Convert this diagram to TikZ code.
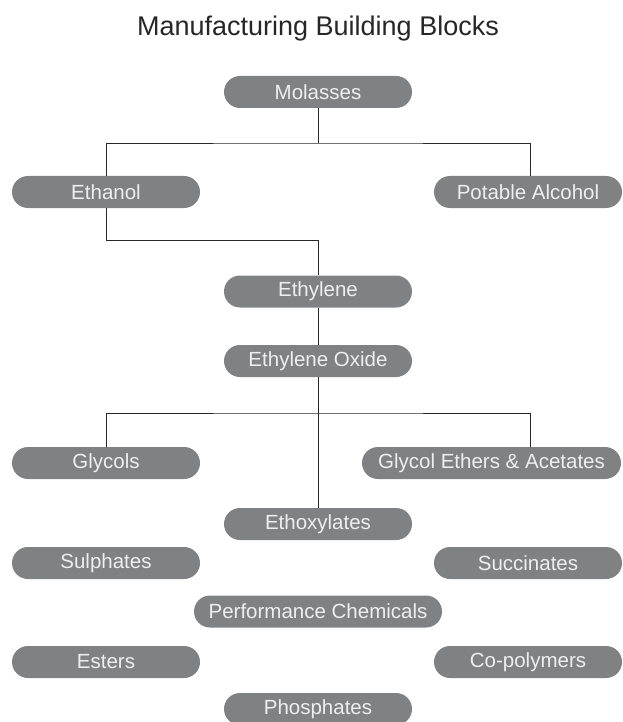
\documentclass[tikz,border=0pt]{standalone}
\usepackage{fontspec}
\setmainfont{Liberation Sans}
\usetikzlibrary{positioning}

\definecolor{blockgray}{RGB}{128,129,131}
\definecolor{blocktext}{RGB}{238,238,238}
\definecolor{linegray}{RGB}{40,40,40}

\tikzset{
  block/.style={rectangle, rounded corners=16pt, fill=blockgray, text=blocktext,
    minimum width=188pt, minimum height=32pt, inner sep=0pt,
    font=\fontsize{20.5}{24}\selectfont},
  link/.style={draw=linegray, line width=0.9pt}
}

\begin{document}
\begin{tikzpicture}[x=1pt, y=-1pt]
    \useasboundingbox (0,0) rectangle (622,722);

    % Title
    \node[anchor=base, text=black!85, font=\fontsize{27}{32}\selectfont] (title) at (318,36) {Manufacturing Building Blocks};

    % Nodes
    \node[block] (molasses) at (318,92) {Molasses};
    \node[block] (ethanol) at (106,192) {Ethanol};
    \node[block] (potable) at (528,192) {Potable Alcohol};
    \node[block] (ethylene) at (318,291.5) {Ethylene};
    \node[block] (oxide) at (318,361) {Ethylene Oxide};
    \node[block] (glycols) at (106,463) {Glycols};
    \node[block, minimum width=259pt] (ethers) at (491.5,463) {Glycol Ethers \& Acetates};
    \node[block] (ethoxylates) at (318,524) {Ethoxylates};
    \node[block] (sulphates) at (106,563) {Sulphates};
    \node[block] (succinates) at (528,563) {Succinates};
    \node[block, minimum width=248pt] (performance) at (318,611.5) {Performance Chemicals};
    \node[block] (esters) at (106,662) {Esters};
    \node[block] (copolymers) at (528,662) {Co-polymers};
    \node[block] (phosphates) at (318,709) {Phosphates};

    % Links
    \coordinate (split1) at (318,143);
    \coordinate (split2) at (318,240);
    \coordinate (split3) at (318,413);
    \draw[link] (molasses.south) -- (split1);
    \draw[link] (ethanol.north) |- (split1) -| ([xshift=2pt]potable.north);
    \draw[link] (ethanol.south) |- (split2) -- (ethylene.north);
    \draw[link] (ethylene.south) -- (oxide.north);
    \draw[link] (oxide.south) -- (ethoxylates.north);
    \draw[link] (glycols.north) |- (split3) -| ([xshift=2pt]ethers.north -| succinates.north);
\end{tikzpicture}
\end{document}
